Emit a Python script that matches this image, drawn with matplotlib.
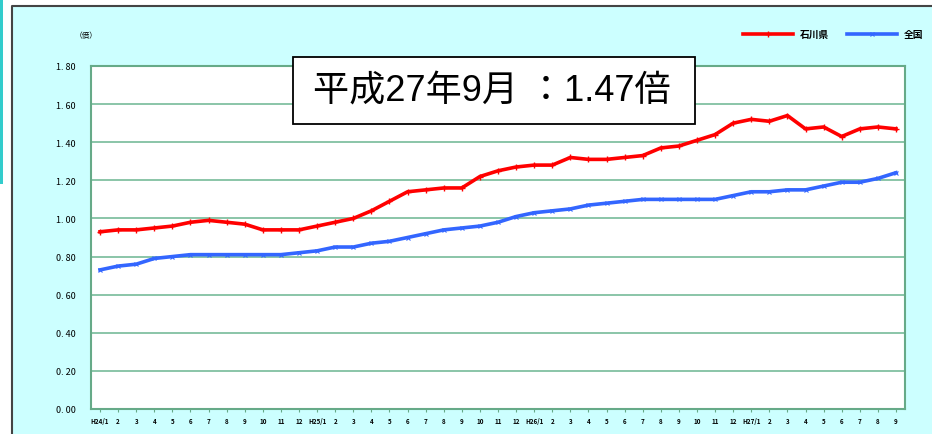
import numpy as np
import matplotlib.pyplot as plt
from matplotlib.patches import Rectangle

plt.rcParams['font.family'] = ['Noto Sans CJK JP', 'DejaVu Sans']

# month labels H24/1 .. H27/9
months = ["H24/1"] + [str(m) for m in range(2, 13)] \
    + ["H25/1"] + [str(m) for m in range(2, 13)] \
    + ["H26/1"] + [str(m) for m in range(2, 13)] \
    + ["H27/1"] + [str(m) for m in range(2, 10)]

ishikawa = [0.93, 0.94, 0.94, 0.95, 0.96, 0.98, 0.99, 0.98, 0.97, 0.94, 0.94, 0.94,
            0.96, 0.98, 1.00, 1.04, 1.09, 1.14, 1.15, 1.16, 1.16, 1.22, 1.25, 1.27,
            1.28, 1.28, 1.32, 1.31, 1.31, 1.32, 1.33, 1.37, 1.38, 1.41, 1.44, 1.50,
            1.52, 1.51, 1.54, 1.47, 1.48, 1.43, 1.47, 1.48, 1.47]
zenkoku = [0.73, 0.75, 0.76, 0.79, 0.80, 0.81, 0.81, 0.81, 0.81, 0.81, 0.81, 0.82,
           0.83, 0.85, 0.85, 0.87, 0.88, 0.90, 0.92, 0.94, 0.95, 0.96, 0.98, 1.01,
           1.03, 1.04, 1.05, 1.07, 1.08, 1.09, 1.10, 1.10, 1.10, 1.10, 1.10, 1.12,
           1.14, 1.14, 1.15, 1.15, 1.17, 1.19, 1.19, 1.21, 1.24]
yticks = [0.0, 0.2, 0.4, 0.6, 0.8, 1.0, 1.2, 1.4, 1.6, 1.8]

W, H = 932, 435
fig = plt.figure(figsize=(9.32, 4.35), dpi=100)
fig.patch.set_facecolor('white')

# background: cyan panel + frame, in its own axes underneath
bg = fig.add_axes([0, 0, 1, 1], zorder=-1)
bg.set_xlim(0, W)
bg.set_ylim(H, 0)
bg.axis('off')
bg.add_patch(Rectangle((12, 7), W, H, facecolor='#CCFFFF', edgecolor='none'))
bg.plot([12, 12, W], [H, 7, 7], color='#444444', lw=1.5)
bg.add_patch(Rectangle((0, 0), 3, 185, facecolor='#33CCCC', edgecolor='none'))

ax = fig.add_axes([91 / W, 1 - 410 / H, (905 - 91) / W, (410 - 67) / H])
ax.set_facecolor('white')
x = np.arange(len(months))

ax.plot(x, ishikawa, color='#FF0000', lw=2.6, marker='+', ms=4, mew=1, label='石川県', zorder=3)
ax.plot(x, zenkoku, color='#3366FF', lw=2.6, marker='x', ms=3.5, mew=0.8, label='全国', zorder=3)

ax.set_xlim(-0.5, len(months) - 0.5)
ax.set_ylim(0, 1.8)
ax.set_yticks(yticks)
ax.set_yticklabels([f"{v:.2f}".replace('.', '. ') for v in yticks], fontsize=6.5)
ax.set_xticks(x)
ax.set_xticklabels(months, fontsize=4.5, fontweight='bold')
ax.tick_params(axis='x', length=2, color='#66AA88', pad=4)
ax.tick_params(axis='y', length=0, pad=11)
ax.grid(axis='y', color='#77BB99', lw=1.2)
ax.set_axisbelow(True)
for s in ax.spines.values():
    s.set_color('#66AA88')
    s.set_linewidth(1.5)

fig.text(75 / W, 1 - 36 / H, '（倍）', fontsize=5.5, va='center')

ax.legend(loc='center', bbox_to_anchor=(833 / W, 1 - 35 / H), bbox_transform=fig.transFigure,
          ncol=2, frameon=False, prop={'size': 7, 'weight': 'bold'},
          handlelength=5.2, columnspacing=1.8, handletextpad=0.7)

# annotation box
ax.add_patch(Rectangle((293, 58), 402, 67, transform=bg.transData, clip_on=False,
                       facecolor='white', edgecolor='black', lw=1.3, zorder=5))
ax.text(492, 92, '平成27年9月 ：1.47倍', transform=bg.transData, fontsize=26,
        ha='center', va='center', zorder=6,
        family=['Liberation Sans', 'Noto Sans CJK JP'])

fig.savefig('out.png', dpi=100, facecolor=fig.get_facecolor())
